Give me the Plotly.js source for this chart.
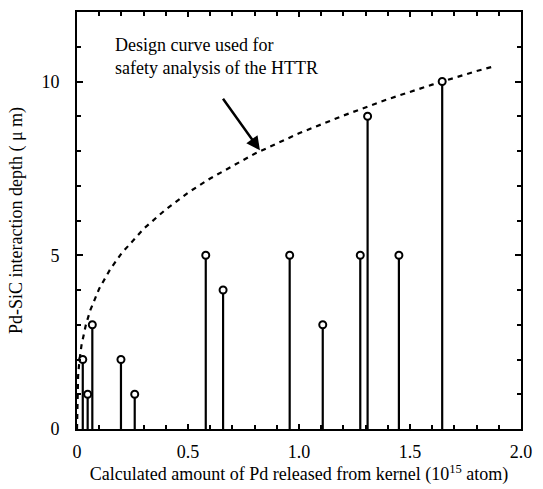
<!DOCTYPE html>
<html>
<head>
<meta charset="utf-8">
<script src="https://cdn.plot.ly/plotly-3.0.1.min.js"></script>
<style>html,body{margin:0;padding:0;background:#fff;}#chart{width:543px;height:489px;}</style>
</head>
<body>
<div id="chart"></div>
<script>
// Measured particles: Pd released (10^15 atom) vs Pd-SiC interaction depth (um)
const pdReleased = [0.026, 0.048, 0.069, 0.198, 0.26, 0.58, 0.658, 0.958, 1.107, 1.276, 1.309, 1.45, 1.645];
const depth      = [2, 1, 3, 2, 1, 5, 4, 5, 3, 5, 9, 5, 10];

// Design curve
const curveX = [0, 0.001, 0.005, 0.01, 0.02, 0.04, 0.06, 0.1, 0.15, 0.2, 0.3, 0.4, 0.5, 0.6, 0.8, 1.0, 1.2, 1.4, 1.6, 1.8, 1.88];
const curveY = [0, 0.91, 1.53, 1.91, 2.40, 3.0, 3.42, 4.04, 4.60, 5.05, 5.76, 6.32, 6.80, 7.21, 7.92, 8.51, 9.02, 9.49, 9.91, 10.30, 10.44];

const xTickVals = [0, 0.5, 1.0, 1.5, 2.0];
const xTickText = ['0', '0.5', '1.0', '1.5', '2.0'];
const yTickVals = [0, 5, 10];
const yTickText = ['0', '5', '10'];

const FONT = '"Liberation Serif", "Times New Roman", serif';

const traces = [
  {
    x: curveX, y: curveY, mode: 'lines', type: 'scatter',
    line: {color: 'black', width: 2.2, dash: '5px,5px'},
    hoverinfo: 'skip', cliponaxis: false
  },
  {
    x: pdReleased, y: depth, mode: 'markers', type: 'scatter',
    marker: {symbol: 'circle', size: 7, color: 'white', line: {color: 'black', width: 2}},
    error_y: {type: 'data', symmetric: false, array: depth.map(() => 0), arrayminus: depth,
              width: 0, thickness: 2.2, color: 'black'},
    cliponaxis: false
  }
];

const layout = {
  width: 543, height: 489,
  margin: {l: 77, r: 22, t: 12, b: 60},
  paper_bgcolor: 'white', plot_bgcolor: 'white',
  showlegend: false,
  font: {family: FONT, size: 18, color: 'black'},
  xaxis: {
    range: [0, 2.0], tickmode: 'array', tickvals: xTickVals, ticktext: xTickText,
    ticks: 'inside', ticklen: 5, tickwidth: 2, tickcolor: 'black',
    minor: {dtick: 0.1, tick0: 0, ticks: 'inside', ticklen: 4, tickwidth: 2, tickcolor: 'black'},
    showline: true, linecolor: 'black', linewidth: 2, mirror: 'allticks',
    showgrid: false, zeroline: false,
    ticklabelstandoff: 5,
    tickfont: {family: FONT, size: 18},
    title: {text: 'Calculated amount of Pd released from kernel (10<sup>15</sup> atom)',
            font: {family: FONT, size: 18}, standoff: 6}
  },
  yaxis: {
    range: [0, 12], tickmode: 'array', tickvals: yTickVals, ticktext: yTickText,
    ticks: 'inside', ticklen: 6, tickwidth: 2, tickcolor: 'black',
    minor: {dtick: 1, tick0: 0, ticks: 'inside', ticklen: 4, tickwidth: 2, tickcolor: 'black'},
    showline: true, linecolor: 'black', linewidth: 2, mirror: 'allticks',
    showgrid: false, zeroline: false,
    ticklabelstandoff: 12,
    tickfont: {family: FONT, size: 18},
    title: {text: 'Pd-SiC interaction depth ( \u03bc m)', font: {family: FONT, size: 18}, standoff: 14}
  },
  annotations: [
    {
      x: 0.162, y: 10.72, xref: 'x', yref: 'y',
      text: 'Design curve used for<br>safety analysis of the HTTR',
      showarrow: false, xanchor: 'left', yanchor: 'middle', align: 'left',
      font: {family: FONT, size: 18, color: 'black'}
    },
    {
      x: 0.824, y: 8.02, xref: 'x', yref: 'y', text: '',
      showarrow: true, arrowhead: 2, arrowsize: 1.1, arrowwidth: 2.5, arrowcolor: 'black',
      ax: -38, ay: -53, standoff: 0
    }
  ]
};

Plotly.newPlot('chart', traces, layout, {displayModeBar: false, staticPlot: true});
</script>
</body>
</html>
